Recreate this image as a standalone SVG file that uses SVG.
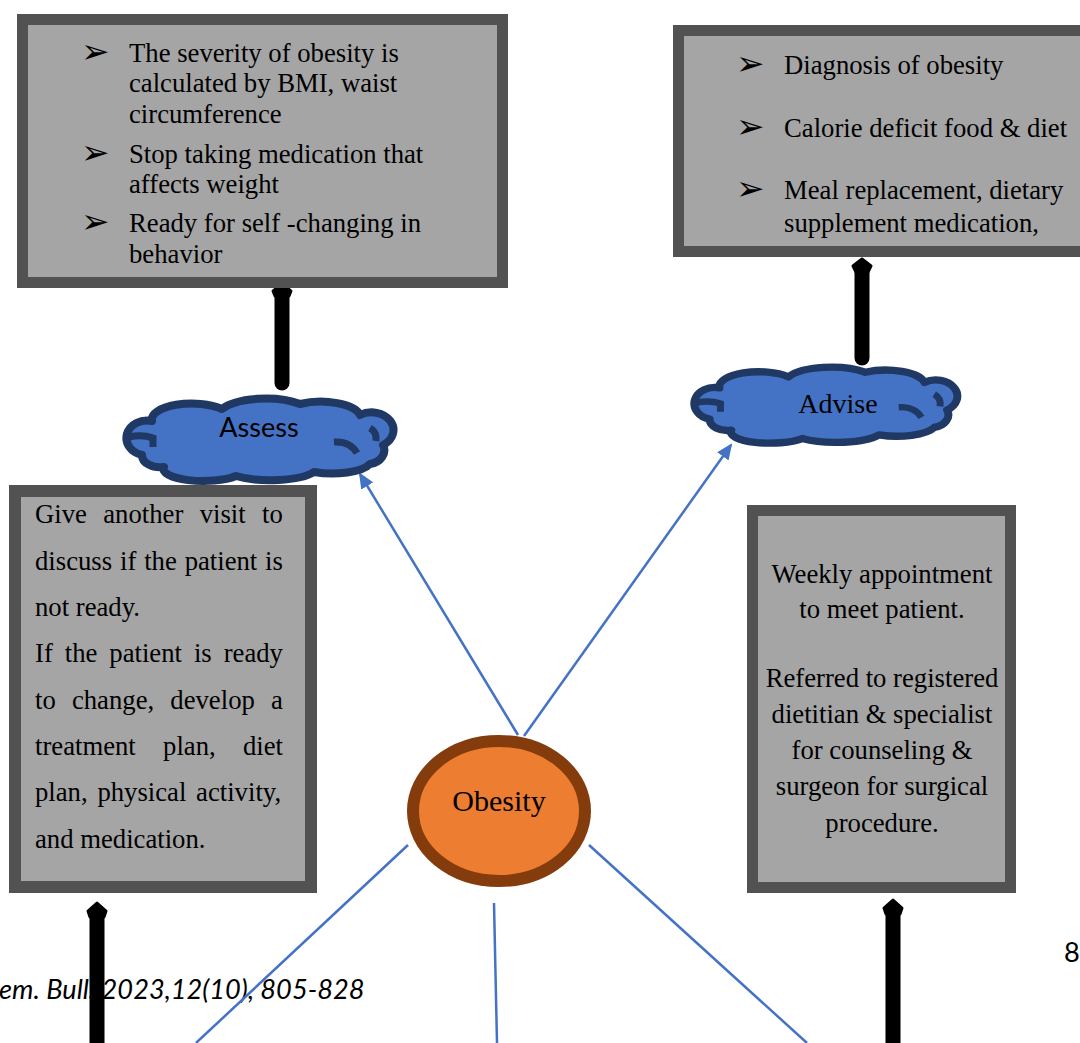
<svg xmlns="http://www.w3.org/2000/svg" xmlns:xlink="http://www.w3.org/1999/xlink" width="1080" height="1043" viewBox="0 0 1080 1043">
<style>
.box{fill:#a5a5a5;stroke:#525252;stroke-width:11}
.t{font-family:"Liberation Serif","Times New Roman",serif;font-size:26.7px;fill:#000}
.bul{font-family:"DejaVu Sans",sans-serif;font-size:34px;fill:#000}
.cloud{fill:#4472c4;stroke:#1f3864;stroke-width:8;stroke-linejoin:round}
.cin{fill:none;stroke:#1f3864;stroke-width:7;stroke-linecap:butt}
.blue{stroke:#4472c4;stroke-width:2.5;fill:none}
.thick{stroke:#000;stroke-width:15;stroke-linecap:round;fill:none}
.head{fill:#000;stroke:#000;stroke-width:3;stroke-linejoin:round}
.foot{font-family:Lato,"Liberation Sans",sans-serif;font-size:27.2px;fill:#000}
</style>
<defs>
<marker id="ahb" viewBox="0 0 16 14" refX="14" refY="7" markerWidth="16" markerHeight="14" orient="auto" markerUnits="userSpaceOnUse">
<path d="M0,0 L16,7 L0,14 Z" fill="#4472c4"/>
</marker>
<g id="cloudshape">
<path class="cloud" d="M142,455 A20,17 0 0 1 152,421 A40,16 0 0 1 222,409 A48,18 0 0 1 300,404 A40,16 0 0 1 360,415 A20,16 0 0 1 383,445 A18,14 0 0 1 370,464 A40,14 0 0 1 314,472 A48,14 0 0 1 236,476 A40,12 0 0 1 164,467 A18,12 0 0 1 142,455 Z"/>
<path class="cin" d="M129,437 Q142,434 153,438 L153,447"/>
<path class="cin" d="M370,428 Q377,432 376,441"/>
<path class="cin" d="M334,442 Q350,441 357,453"/>
</g>
</defs>

<g id="footer">
<text class="foot" x="-1" y="999" font-style="italic">em. Bull. 2023,12(10), 805-828</text>
<text class="foot" x="1064" y="962">8</text>
</g>

<g id="connectors">
<line class="blue" x1="518" y1="735" x2="360" y2="474" marker-end="url(#ahb)"/>
<line class="blue" x1="524" y1="736" x2="731" y2="445" marker-end="url(#ahb)"/>
<line class="blue" x1="408" y1="845" x2="196" y2="1043"/>
<line class="blue" x1="494" y1="903" x2="497" y2="1043"/>
<line class="blue" x1="589" y1="845" x2="807" y2="1043"/>
<line class="thick" x1="282" y1="292" x2="282" y2="383"/>
<path class="head" d="M282,283 L291,291 L289,296 L275,296 L273,291 Z"/>
<line class="thick" x1="862" y1="268" x2="862" y2="358"/>
<path class="head" d="M862,259 L871,266 L868,272 L856,272 L853,266 Z"/>
<line class="thick" x1="97" y1="912" x2="97" y2="1060"/>
<path class="head" d="M97,903 L106,911 L104,917 L90,917 L88,911 Z"/>
<line class="thick" x1="893" y1="909" x2="893" y2="1060"/>
<path class="head" d="M893,900 L902,908 L900,914 L886,914 L884,908 Z"/>
</g>

<g id="box-assess-detail">
<rect class="box" x="22.5" y="19.5" width="480" height="263"/>
<text class="bul" x="81" y="63">➢</text>
<text class="t" x="129" y="62">The severity of obesity is</text>
<text class="t" x="129" y="92">calculated by BMI, waist</text>
<text class="t" x="129" y="123">circumference</text>
<text class="bul" x="81" y="164">➢</text>
<text class="t" x="129" y="163">Stop taking medication that</text>
<text class="t" x="129" y="193">affects weight</text>
<text class="bul" x="81" y="233">➢</text>
<text class="t" x="129" y="232">Ready for self -changing in</text>
<text class="t" x="129" y="263">behavior</text>
</g>

<g id="box-advise-detail">
<rect class="box" x="678.5" y="30.5" width="420" height="221"/>
<text class="bul" x="736" y="75">➢</text>
<text class="t" x="784" y="74">Diagnosis of obesity</text>
<text class="bul" x="736" y="138">➢</text>
<text class="t" x="784" y="137">Calorie deficit food &amp; diet</text>
<text class="bul" x="736" y="200">➢</text>
<text class="t" x="784" y="199">Meal replacement, dietary</text>
<text class="t" x="784" y="232">supplement medication,</text>
</g>

<g id="cloud-assess">
<use xlink:href="#cloudshape" href="#cloudshape"/>
<text x="259" y="437" text-anchor="middle" style="font-family:Lato,'Liberation Sans',sans-serif;font-size:27px">Assess</text>
</g>

<g id="cloud-advise">
<use xlink:href="#cloudshape" href="#cloudshape" transform="translate(687,363) scale(0.985,0.921) translate(-119,-394)"/>
<text x="838" y="413" text-anchor="middle" style="font-family:'Liberation Serif','Times New Roman',serif;font-size:28px">Advise</text>
</g>

<g id="box-left">
<rect x="15" y="491" width="296" height="396" fill="#a5a5a5" stroke="#525252" stroke-width="12"/>
<text class="t" x="35" y="523" word-spacing="9.7">Give another visit to</text>
<text class="t" x="35" y="569.5" word-spacing="1.2">discuss if the patient is</text>
<text class="t" x="35" y="616">not ready.</text>
<text class="t" x="35" y="662" word-spacing="5.3">If the patient is ready</text>
<text class="t" x="35" y="708.5" word-spacing="9.5">to change, develop a</text>
<text class="t" x="35" y="755" word-spacing="20.6">treatment plan, diet</text>
<text class="t" x="35" y="801" word-spacing="3.1">plan, physical activity,</text>
<text class="t" x="35" y="847.5">and medication.</text>
</g>

<g id="box-right">
<rect class="box" x="752.5" y="510.5" width="258" height="377"/>
<g text-anchor="middle">
<text class="t" x="882" y="583">Weekly appointment</text>
<text class="t" x="882" y="618">to meet patient.</text>
<text class="t" x="882" y="687">Referred to registered</text>
<text class="t" x="882" y="723">dietitian &amp; specialist</text>
<text class="t" x="882" y="759">for counseling &amp;</text>
<text class="t" x="882" y="795">surgeon for surgical</text>
<text class="t" x="882" y="832">procedure.</text>
</g>
</g>

<g id="node-obesity">
<ellipse cx="499" cy="811" rx="86" ry="70" fill="#ed7d31" stroke="#843c0c" stroke-width="12"/>
<text x="499" y="811" text-anchor="middle" style="font-family:'Liberation Serif','Times New Roman',serif;font-size:30px">Obesity</text>
</g>
</svg>
